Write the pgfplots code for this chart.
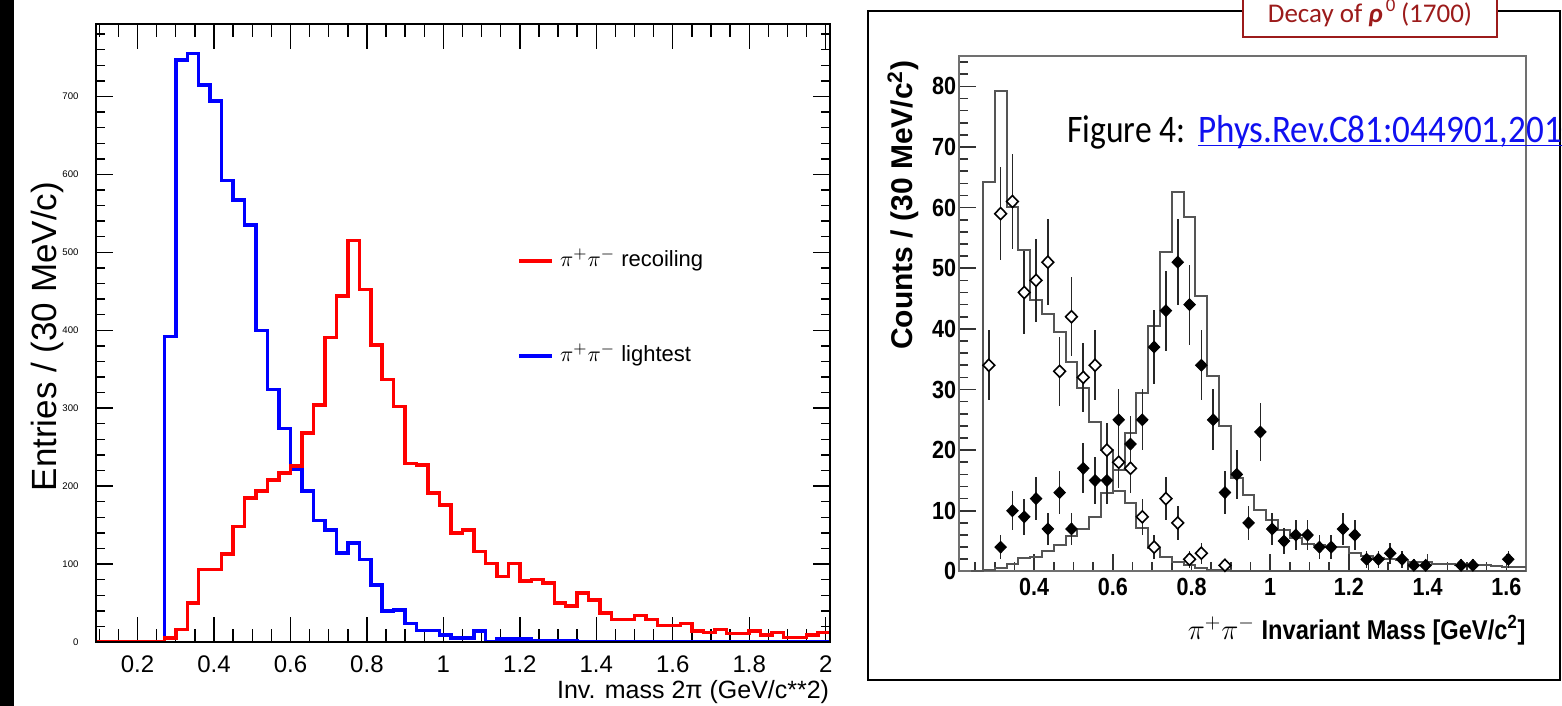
\documentclass[border=0pt]{standalone}
\usepackage{fontspec}
\setmainfont{Liberation Sans}
\newfontfamily\carlito{Carlito}
\newfontfamily\figfont[FakeStretch=0.86]{Carlito}
\newfontfamily\linkfont[FakeStretch=0.9]{Carlito}
\newfontfamily\rootb[FakeStretch=0.87]{Liberation Sans}
\usepackage{pgfplots}
\pgfplotsset{compat=1.18}
\definecolor{histgray}{HTML}{555555}
\definecolor{framegray}{HTML}{707070}
\definecolor{darkred}{HTML}{9C1B1B}
\definecolor{linkblue}{HTML}{1010F0}
\definecolor{rootred}{HTML}{FF0000}
\definecolor{rootblue}{HTML}{0000FF}

\begin{document}
\begin{tikzpicture}
\path[use as bounding box] (0,0) rectangle (781pt,353pt);
\fill[black] (0,0) rectangle (7pt,353pt);

% ---------------- left histogram: data + x ticks ----------------
\begin{axis}[
  at={(47.75pt,32pt)}, anchor=south west,
  scale only axis, width=367pt, height=309pt,
  xmin=0.09, xmax=2.01, ymin=0, ymax=793,
  axis line style={line width=1pt},
  xtick={0.2,0.4,0.6,0.8,1,1.2,1.4,1.6,1.8,2},
  minor xtick={0.1,0.15,...,2.0},
  ytick=\empty,
  tick align=inside, xtick pos=both,
  major tick length=12.5pt, minor tick length=6.5pt,
  every tick/.style={black, line width=0.7pt},
  /pgf/number format/assume math mode=true,
  x tick label style={font=\fontsize{12}{14}\selectfont, yshift=-3.3pt},
  xlabel={Inv. mass 2π (GeV/c**2)},
  xlabel style={at={(axis description cs:1,-0.081)}, anchor=east, font=\fontsize{12.5}{15}\selectfont, inner sep=0pt},
  reverse legend,
  legend cell align=left,
  legend image code/.code={\draw[#1] (0pt,0pt) -- (16.5pt,0pt);},
  legend style={draw=none, fill=none, at={(axis cs:1.193,503)}, anchor=north west,
     font=\fontsize{11}{13}\selectfont, row sep=37pt, inner sep=0pt,
     nodes={inner sep=0pt, text height=8pt, text depth=2.5pt}},
]
\addplot[const plot, rootblue, line width=1.75pt] coordinates {
 (0.09,0) (0.12,0) (0.15,0) (0.18,0) (0.21,0) (0.24,0) (0.27,392) (0.30,747)
 (0.33,755) (0.36,715) (0.39,694) (0.42,592) (0.45,567) (0.48,535) (0.51,400)
 (0.54,324) (0.57,274) (0.60,222) (0.63,194) (0.66,156) (0.69,144) (0.72,114)
 (0.75,127) (0.78,106) (0.81,73) (0.84,40) (0.87,41) (0.90,24) (0.93,15)
 (0.96,15) (0.99,9) (1.02,5) (1.05,5) (1.08,14) (1.11,0) (1.14,4) (1.17,4)
 (1.20,4) (1.23,2) (1.26,2) (1.29,1) (1.32,1) (1.35,0) (2.01,0)};
\addlegendentry{\ $\pi^{+}\pi^{-}$ lightest}
\addplot[const plot, rootred, line width=1.75pt] coordinates {
 (0.09,0) (0.27,5) (0.30,16) (0.33,50) (0.36,93) (0.39,93) (0.42,113) (0.45,148)
 (0.48,185) (0.51,194) (0.54,208) (0.57,217) (0.60,226) (0.63,268) (0.66,304)
 (0.69,391) (0.72,444) (0.75,515) (0.78,452) (0.81,381) (0.84,337) (0.87,302)
 (0.90,229) (0.93,227) (0.96,191) (0.99,176) (1.02,140) (1.05,144) (1.08,116)
 (1.11,101) (1.14,84) (1.17,101) (1.20,78) (1.23,80) (1.26,76) (1.29,50)
 (1.32,46) (1.35,63) (1.38,54) (1.41,37) (1.44,29) (1.47,29) (1.50,34)
 (1.53,29) (1.56,21) (1.59,21) (1.62,24) (1.65,14) (1.68,12) (1.71,16)
 (1.74,11) (1.77,11) (1.80,14) (1.83,9) (1.86,12) (1.89,6) (1.92,6) (1.95,9)
 (1.98,12) (2.01,12)};
\addlegendentry{\ $\pi^{+}\pi^{-}$ recoiling}
\end{axis}

% ---------------- left histogram: y ticks ----------------
\begin{axis}[
  at={(47.75pt,32pt)}, anchor=south west,
  scale only axis, width=367pt, height=309pt,
  xmin=0.09, xmax=2.01, ymin=0, ymax=793,
  axis line style={line width=1pt},
  xtick=\empty,
  ytick={0,100,...,700},
  minor ytick={20,40,...,780},
  tick align=inside, ytick pos=both,
  major tick length=8.5pt, minor tick length=4.5pt,
  every tick/.style={black, line width=0.7pt},
  /pgf/number format/assume math mode=true,
  y tick label style={font=\fontsize{4.8}{6}\selectfont, xshift=-5pt},
  ylabel={Entries / (30 MeV/c)},
  ylabel style={at={(axis description cs:-0.066,0.494)}, anchor=center, font=\fontsize{17.5}{20}\selectfont},
]
\end{axis}

% ---------------- right panel frame ----------------
\draw[black, line width=1pt] (434pt,13pt) rectangle (780pt,347.5pt);

% ---------------- right plot ----------------
\begin{axis}[
  at={(479.65pt,67.3pt)}, anchor=south west,
  scale only axis, width=283.35pt, height=257.7pt,
  xmin=0.21, xmax=1.65, ymin=0, ymax=85,
  axis line style={framegray, line width=1pt},
  tick pos=left, tick align=inside,
  major tick length=8.5pt, minor tick length=4.5pt,
  every tick/.style={black!80, line width=0.8pt},
  xtick={0.4,0.6,0.8,1,1.2,1.4,1.6},
  minor xtick={0.25,0.3,...,1.65},
  ytick={0,10,...,80},
  minor ytick={2,4,...,84},
  /pgf/number format/assume math mode=true,
  tick label style={font=\rootb\bfseries\fontsize{12.4}{14}\selectfont},
  y tick label style={xshift=2pt},
  xlabel={$\pi^{+}\pi^{-}$ Invariant Mass [GeV/c\textsuperscript{2}]},
  xlabel style={at={(axis description cs:1,-0.114)}, anchor=east, font=\rootb\bfseries\fontsize{13.6}{16}\selectfont, inner sep=0pt},
  ylabel={Counts / (30 MeV/c\textsuperscript{2})},
  ylabel style={at={(axis description cs:-0.0993,0.992)}, anchor=east, font=\bfseries\fontsize{15}{18}\selectfont, inner sep=0pt},
]
\addplot[const plot, histgray, line width=1pt] coordinates {
 (0.24,0) (0.27,64.2) (0.30,79.3) (0.33,60.1) (0.36,53) (0.39,44.8) (0.42,42.5)
 (0.45,39.5) (0.48,34.6) (0.51,30.3) (0.54,24.7) (0.57,20) (0.60,13.2)
 (0.63,11.2) (0.66,7.1) (0.69,3.8) (0.72,2.4) (0.75,1.6) (0.78,1.0) (0.81,0.6)
 (0.84,0.3) (0.87,0.2) (0.90,0) (1.65,0)};
\addplot[const plot, histgray, line width=1pt] coordinates {
 (0.24,0) (0.27,0.3) (0.30,0.6) (0.33,1.2) (0.36,2.2) (0.39,2.3) (0.42,3.3)
 (0.45,4.3) (0.48,5.8) (0.51,7) (0.54,9) (0.57,13) (0.60,16.7) (0.63,22.8)
 (0.66,29.4) (0.69,40.4) (0.72,52.7) (0.75,62.6) (0.78,58.5) (0.81,45.5)
 (0.84,32.2) (0.87,23.9) (0.90,15.4) (0.93,12.6) (0.96,10.1) (0.99,8.4)
 (1.02,6.8) (1.05,5.5) (1.08,4.6) (1.11,4.4) (1.14,4.1) (1.17,4.1) (1.20,3.0)
 (1.23,2.5) (1.26,2.2) (1.29,2.0) (1.32,1.8) (1.35,1.6) (1.38,1.5) (1.41,1.3)
 (1.44,1.2) (1.47,1.1) (1.50,1.0) (1.53,1.0) (1.56,0.9) (1.59,0.8) (1.62,0.8)
 (1.65,0.8)};
% filled diamonds
\addplot[only marks, mark=diamond*, mark size=2.9pt,
  mark options={fill=black, draw=black, line width=0.5pt, xscale=1.3},
  error bars/.cd, y dir=both, y explicit, error mark=none,
  error bar style={line width=0.8pt, black!85}] coordinates {
 (0.315,4) +- (0,2) (0.345,10) +- (0,3.2) (0.375,9) +- (0,3) (0.405,12) +- (0,3.5)
 (0.435,7) +- (0,2.6) (0.465,13) +- (0,3.6) (0.495,7) +- (0,2.6) (0.525,17) +- (0,4.1)
 (0.555,15) +- (0,3.9) (0.585,15) +- (0,3.9) (0.615,25) +- (0,5) (0.645,21) +- (0,4.6)
 (0.675,25) +- (0,5) (0.705,37) +- (0,6.1) (0.735,43) +- (0,6.6) (0.765,51) +- (0,7.1)
 (0.795,44) +- (0,6.6) (0.825,34) +- (0,5.8) (0.855,25) +- (0,5) (0.885,13) +- (0,3.6)
 (0.915,16) +- (0,4) (0.945,8) +- (0,2.8) (0.975,23) +- (0,4.8) (1.005,7) +- (0,2.6)
 (1.035,5) +- (0,2.2) (1.065,6) +- (0,2.4) (1.095,6) +- (0,2.4) (1.125,4) +- (0,2)
 (1.155,4) +- (0,2) (1.185,7) +- (0,2.6) (1.215,6) +- (0,2.4) (1.245,2) +- (0,1.4)
 (1.275,2) +- (0,1.4) (1.305,3) +- (0,1.7) (1.335,2) +- (0,1.4) (1.365,1) +- (0,1)
 (1.395,1) +- (0,1) (1.485,1) +- (0,1) (1.515,1) +- (0,1) (1.605,2) +- (0,1.4)};
% open diamonds
\addplot[only marks, mark=diamond*, mark size=3pt,
  mark options={fill=white, draw=black, line width=0.8pt, xscale=1.3},
  error bars/.cd, y dir=both, y explicit, error mark=none,
  error bar style={line width=0.8pt, black!85}] coordinates {
 (0.285,34) +- (0,5.8) (0.315,59) +- (0,7.7) (0.345,61) +- (0,7.8) (0.375,46) +- (0,6.8)
 (0.405,48) +- (0,6.9) (0.435,51) +- (0,7.1) (0.465,33) +- (0,5.7) (0.495,42) +- (0,6.5)
 (0.525,32) +- (0,5.7) (0.555,34) +- (0,5.8) (0.585,20) +- (0,4.5) (0.615,18) +- (0,4.2)
 (0.645,17) +- (0,4.1) (0.675,9) +- (0,3) (0.705,4) +- (0,2) (0.735,12) +- (0,3.5)
 (0.765,8) +- (0,2.8) (0.795,2) +- (0,1.4) (0.825,3) +- (0,1.7) (0.885,1) +- (0,1)};
\end{axis}

% ---------------- overlay text ----------------
\node[anchor=base west, inner sep=0pt] (fig) at (533.5pt,281.5pt)
  {\figfont\fontsize{19.5}{22}\selectfont Figure 4:};
\node[anchor=base west, inner sep=0pt, text=linkblue] (lnk) at ([xshift=6pt]fig.base east)
  {\linkfont\fontsize{19.5}{22}\selectfont Phys.Rev.C81:044901,2010};
\draw[linkblue, line width=0.9pt] ([yshift=-1.3pt]lnk.base west) -- ([yshift=-1.3pt]lnk.base east);

\draw[darkred, fill=white, line width=0.9pt] (621.5pt,334.5pt) rectangle (748.5pt,360pt);
\node[anchor=base, inner sep=0pt, text=darkred] at (685pt,341.8pt)
  {\carlito\fontsize{13.5}{15}\selectfont Decay of {\bfseries\itshape ρ}\textsuperscript{\,0}\,(1700)};
\end{tikzpicture}
\end{document}
